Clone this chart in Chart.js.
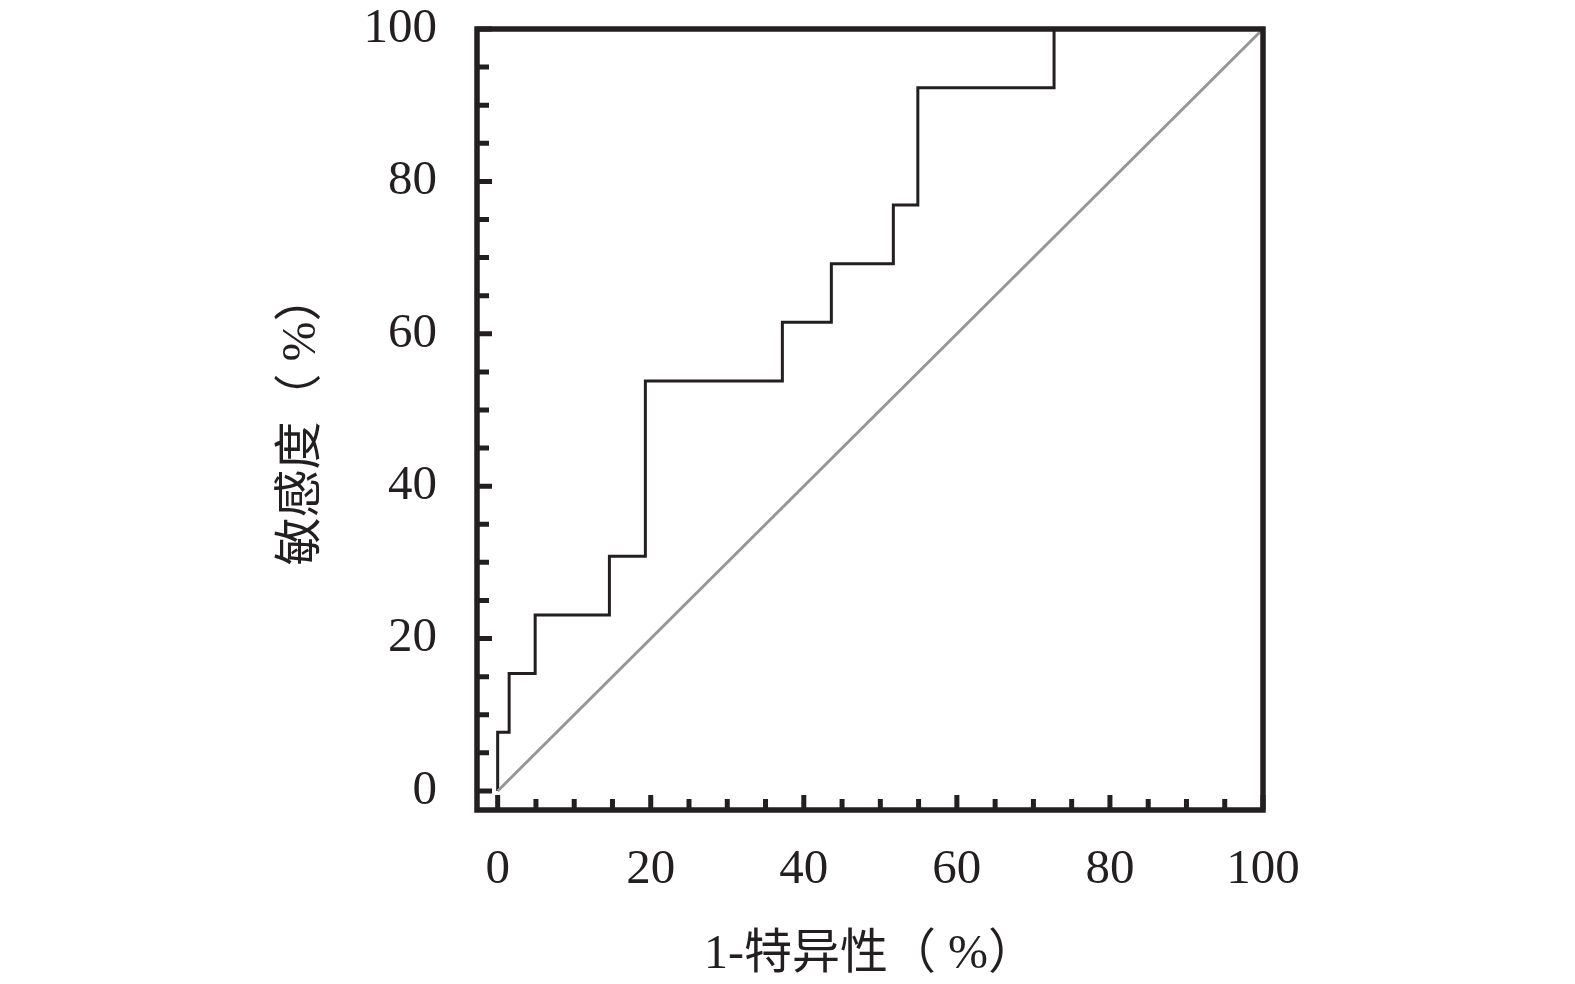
<!DOCTYPE html>
<html>
<head>
<meta charset="utf-8">
<script src="https://cdn.jsdelivr.net/npm/chart.js@4/dist/chart.umd.min.js"></script>
<style>
  html, body { margin: 0; padding: 0; background: #fff; }
  #wrap { width: 1575px; height: 984px; }
</style>
</head>
<body>
<div id="wrap"><canvas id="roc"></canvas></div>
<script>
// ROC curve points (1-specificity %, sensitivity %)
var fprValues = [0, 0, 1.5, 4.9, 14.6, 19.3, 37.2, 43.6, 51.7, 54.9, 72.7, 100];
var tprValues = [0, 7.7, 15.4, 23.1, 30.8, 53.8, 61.5, 69.2, 76.9, 92.3, 100, 100];
// reference diagonal
var refX = [0, 100];
var refY = [0, 100];
// tick positions (minor every 5, labelled every 20)
var tickValues = [0, 5, 10, 15, 20, 25, 30, 35, 40, 45, 50, 55, 60, 65, 70, 75, 80, 85, 90, 95, 100];

var ink = '#231f20';
var serif = '"Liberation Serif", "Noto Sans CJK SC", serif';
var cjk = '"Liberation Serif", "Noto Sans CJK SC", sans-serif';

function toPoints(xs, ys) {
    return xs.map(function (x, i) { return { x: x, y: ys[i] }; });
}

// frame and inward tick marks
var framePlugin = {
    id: 'frame',
    afterDraw: function (chart) {
        var ctx = chart.ctx;
        var a = chart.chartArea;
        var xs = chart.scales.x, ys = chart.scales.y;
        ctx.save();
        ctx.strokeStyle = ink;
        ctx.lineWidth = 5.5;
        ctx.strokeRect(a.left, a.top, a.right - a.left, a.bottom - a.top);
        ctx.lineWidth = 5;
        ctx.beginPath();
        tickValues.forEach(function (v) {
            var major = v % 20 === 0;
            var py = ys.getPixelForValue(v);
            ctx.moveTo(a.left, py);
            ctx.lineTo(a.left + (major ? 15 : 12), py);
            var px = xs.getPixelForValue(v);
            ctx.moveTo(px, a.bottom);
            ctx.lineTo(px, a.bottom - (major ? 15 : 11));
        });
        ctx.stroke();
        ctx.restore();
    }
};

function setTicks(scale) {
    scale.ticks = tickValues.map(function (v) { return { value: v }; });
}

function noPad(s) {
    s.paddingTop = 0;
    s.paddingBottom = 0;
    s.paddingLeft = 0;
    s.paddingRight = 0;
}

new Chart(document.getElementById('roc'), {
    type: 'scatter',
    data: {
        datasets: [
            {
                data: toPoints(refX, refY),
                showLine: true,
                borderColor: '#969696',
                borderWidth: 3,
                pointRadius: 0,
                clip: false
            },
            {
                data: toPoints(fprValues, tprValues),
                showLine: true,
                stepped: true,
                borderColor: ink,
                borderWidth: 3,
                pointRadius: 0,
                clip: false
            }
        ]
    },
    options: {
        responsive: true,
        maintainAspectRatio: false,
        animation: false,
        layout: { padding: { left: 274, right: 312, top: 29, bottom: 0 } },
        plugins: { legend: { display: false }, tooltip: { enabled: false } },
        scales: {
            x: {
                type: 'linear',
                min: -2.7,
                max: 100,
                afterBuildTicks: setTicks,
                afterFit: function (s) { s.height = 174; noPad(s); },
                grid: { display: false, drawTicks: false },
                border: { display: false },
                ticks: {
                    autoSkip: false,
                    maxRotation: 0,
                    padding: 31,
                    color: ink,
                    font: { family: serif, size: 49 },
                    callback: function (v) { return v % 20 === 0 ? v : ''; }
                },
                title: {
                    display: true,
                    text: '1-特异性（ %）',
                    color: ink,
                    padding: 0,
                    font: { family: cjk, size: 48 }
                }
            },
            y: {
                type: 'linear',
                min: -2.5,
                max: 100,
                afterBuildTicks: setTicks,
                afterFit: function (s) { s.width = 203; noPad(s); },
                grid: { display: false, drawTicks: false },
                border: { display: false },
                ticks: {
                    autoSkip: false,
                    padding: 40,
                    color: ink,
                    font: { family: serif, size: 49 },
                    callback: function (v) { return v % 20 === 0 ? v : ''; }
                },
                title: {
                    display: true,
                    text: '敏感度（ %）',
                    color: ink,
                    padding: 0,
                    font: { family: cjk, size: 48 }
                }
            }
        }
    },
    plugins: [framePlugin]
});
</script>
</body>
</html>
